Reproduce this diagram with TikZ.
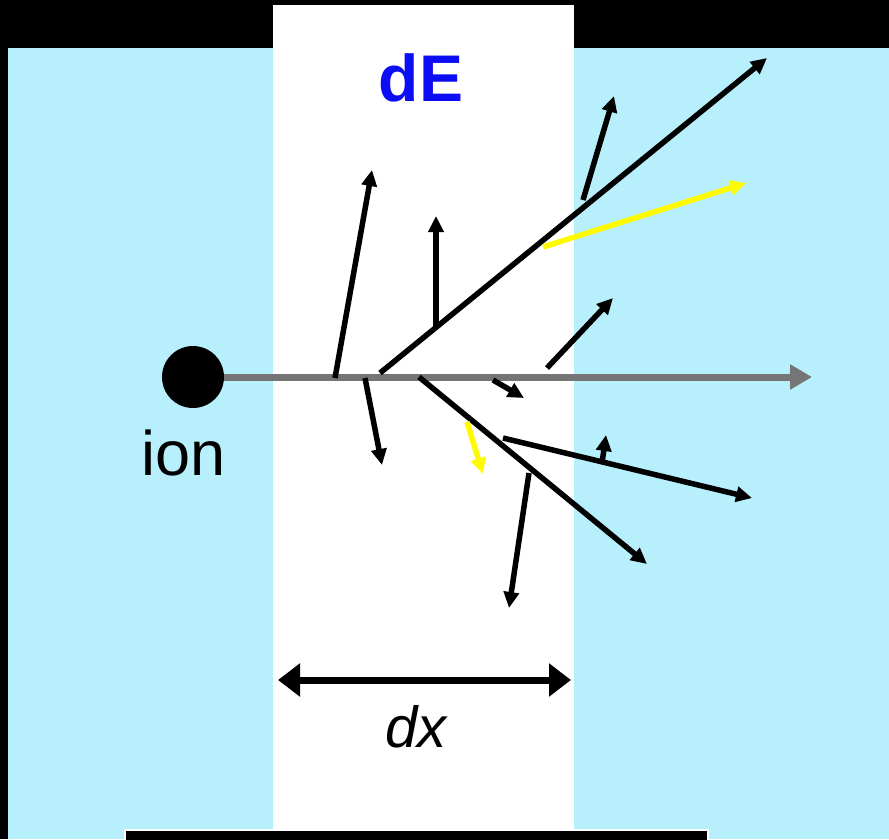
\documentclass[tikz,border=0pt]{standalone}
\usepackage{fontspec}
\setmainfont{Liberation Sans}
\usetikzlibrary{arrows.meta}
\definecolor{slab}{RGB}{183,240,252}
\definecolor{beamgray}{RGB}{117,117,117}
\definecolor{dEblue}{RGB}{12,12,245}
\definecolor{hotyellow}{RGB}{255,250,0}

\begin{document}
\begin{tikzpicture}[x=1pt,y=-1pt,>={Triangle[length=16pt,width=15pt]},
  track/.style={->,line width=5.5pt},
  hot/.style={track,hotyellow}]
\fill[black] (0,0) rectangle (889,839);
\useasboundingbox (0,0) rectangle (889,839);
\fill[slab] (8,48) rectangle (889,839);
\fill[white] (273,5) rectangle (574,829);
\filldraw[black,draw=white,line width=1.5pt] (125,830) rectangle (708,845);

% the ion and its path
\node[circle,fill=black,minimum size=62pt,inner sep=0pt] (ion) at (193,377) {};
\node[font=\fontsize{63}{65}\selectfont] (ionlbl) at (184,453) {ion};
\coordinate (beamend) at (812,377);
\draw[->,beamgray,line width=7pt,>={Triangle[length=22pt,width=24pt]}] (ion.east) -- (beamend);

% delta rays
\coordinate (d1s) at (335,378);  \coordinate (d1t) at (372,170);
\coordinate (d2s) at (380,373);  \coordinate (d2t) at (767,58);
\coordinate (d3s) at (436,327);  \coordinate (d3t) at (436,216);
\coordinate (d4s) at (583,200);  \coordinate (d4t) at (614,96);
\coordinate (d5s) at (543,247);  \coordinate (d5t) at (746,183);
\coordinate (d6s) at (547,368);  \coordinate (d6t) at (613,298);
\coordinate (d7s) at (365,378);  \coordinate (d7t) at (382,465);
\coordinate (d8s) at (493,380);  \coordinate (d8t) at (524,398);
\coordinate (d9s) at (419,377);  \coordinate (d9t) at (647,564);
\coordinate (d10s) at (467,422); \coordinate (d10t) at (483,474);
\coordinate (d11s) at (503,438); \coordinate (d11t) at (752,498);
\coordinate (d12s) at (602,463); \coordinate (d12t) at (606,435);
\coordinate (d13s) at (529,473); \coordinate (d13t) at (509,608);

\foreach \k in {1,2,3,4,6,7,8,9,11,12,13}
  \draw[track] (d\k s) -- (d\k t);
\foreach \k in {5,10}
  \draw[hot] (d\k s) -- (d\k t);

% labels
\node[dEblue,font=\fontsize{66}{68}\selectfont\bfseries] (dE) at (421,78) {dE};
\coordinate (dxl) at (278,680);
\coordinate (dxr) at (571,680);
\draw[<->,line width=7pt,>={Triangle[length=22pt,width=32pt]}] (dxl) -- (dxr);
\node[font=\fontsize{58}{60}\selectfont\itshape] (dx) at (416,727) {dx};
\end{tikzpicture}
\end{document}
